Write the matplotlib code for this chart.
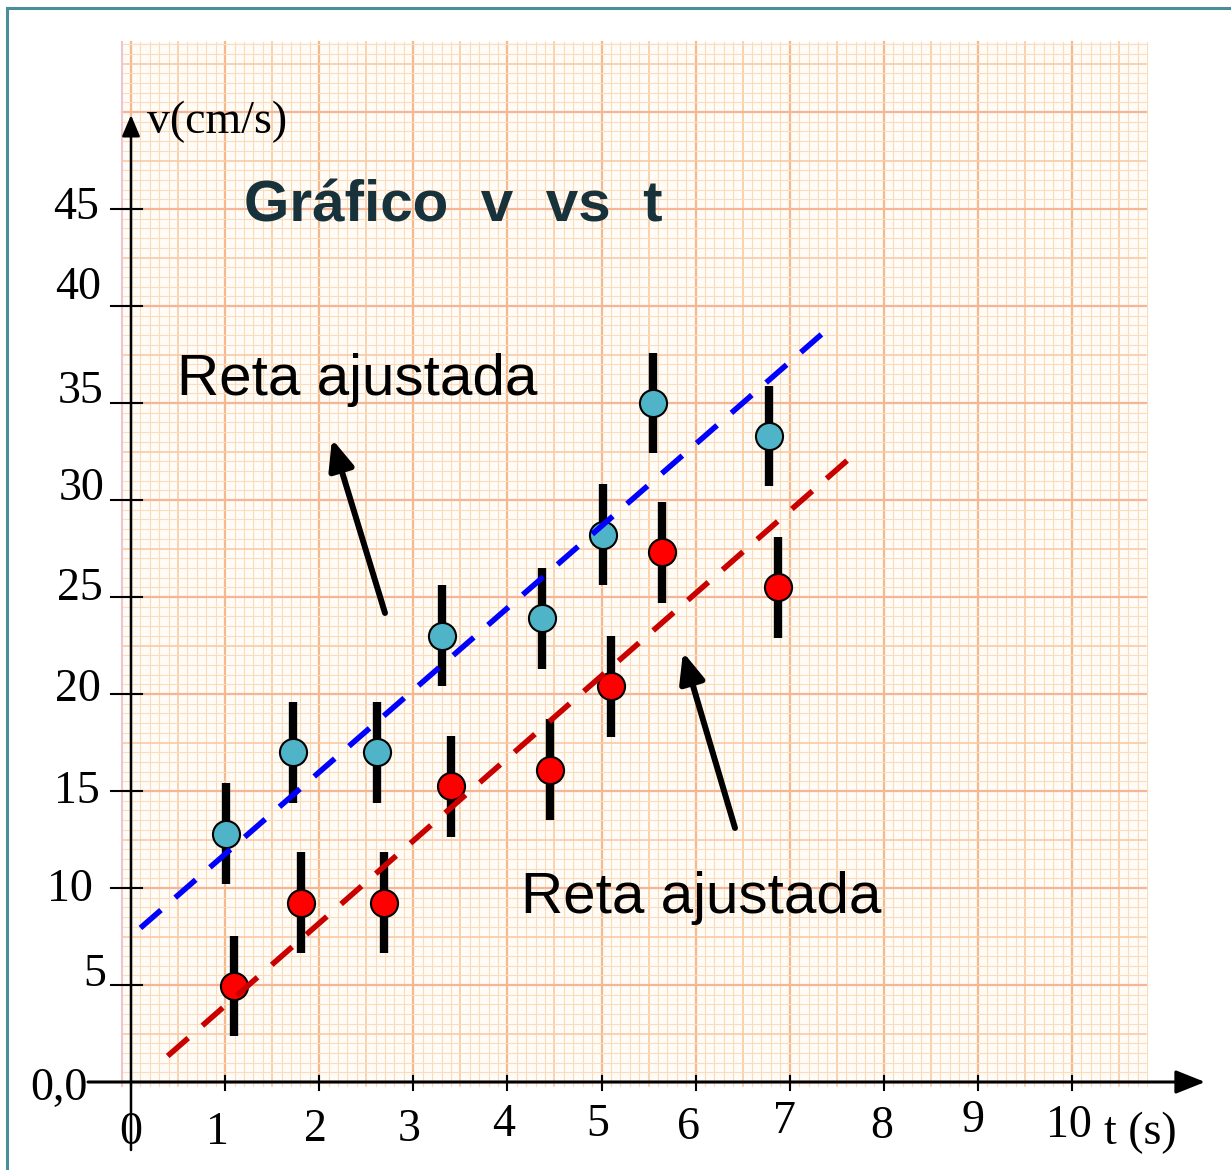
import matplotlib.pyplot as plt
from matplotlib.patches import Rectangle
import numpy as np

# blue series (upper)
t_blue = [1.01, 1.72, 2.61, 3.31, 4.37, 5.02, 5.55, 6.78]
v_blue = [12.8, 17.0, 17.0, 23.0, 23.9, 28.2, 35.0, 33.3]
# red series (lower)
t_red = [1.09, 1.81, 2.69, 3.40, 4.45, 5.10, 5.64, 6.88]
v_red = [4.95, 9.25, 9.25, 15.25, 16.1, 20.4, 27.3, 25.5]
v_err = 2.6

# fitted lines (end points)
fit_blue_t = [0.10, 7.39]
fit_blue_v = [7.94, 38.76]
fit_red_t = [0.39, 7.64]
fit_red_v = [1.34, 32.16]

x_ticks = [0, 1, 2, 3, 4, 5, 6, 7, 8, 9, 10]
x_labels = ['0', '1', '2', '3', '4', '5', '6', '7', '8', '9', '10']
y_ticks = [45, 40, 35, 30, 25, 20, 15, 10, 5, 0]
y_labels = ['45', '40', '35', '30', '25', '20', '15', '10', '5', '0,0']

# little hand-drawn offsets of the tick labels (pixels)
ylab_right = [99, 101, 103, 105, 103, 101, 100, 93, 106, 88]
ylab_base = [10, -7, 0, 0, 3, 7, 12, 13, 1, 18]
xlab_dx = [0, -8, -4, -4, -4, -4, -7, -5, -2, -5, -3]
xlab_cy = [1133, 1133, 1130, 1130, 1125, 1125, 1128, 1122, 1127, 1121, 1126]

W, H = 1231, 1170
X0, SX = 131.0, 94.1     # pixel of t=0, pixels per second
Y0, SY = 1082.0, 19.4    # pixel of v=0, pixels per cm/s


def T(px):
    return (px - X0) / SX


def V(py):
    return (Y0 - py) / SY


SERIF = ['Liberation Serif', 'DejaVu Serif']
SANS = ['Liberation Sans', 'DejaVu Sans']

fig = plt.figure(figsize=(W / 100, H / 100), dpi=100)
ax = fig.add_axes([0, 0, 1, 1])
ax.set_xlim(T(0), T(W))
ax.set_ylim(V(H), V(0))
ax.axis('off')

# frame
ax.add_patch(Rectangle((T(7), V(H + 20)), T(W + 20) - T(7), V(8) - V(H + 20),
                       fill=False, ec='#4b8d9b', lw=2.2, zorder=0))

# graph paper
p_left, p_right = T(122), T(1146)
p_bot, p_top = V(1086), V(42)
ax.add_patch(Rectangle((p_left, p_bot), p_right - p_left, p_top - p_bot,
                       fc='#fffbf7', ec='none', zorder=0.5))
gx = np.arange(0, 10.81, 0.1)
for i, x in enumerate(gx):
    if i % 10 == 0:
        c, lw = '#f5b98c', 1.6
    elif i % 5 == 0:
        c, lw = '#f8cba2', 1.2
    else:
        c, lw = '#fbdcb9', 0.8
    ax.plot([x, x], [p_bot, p_top], color=c, lw=lw, zorder=1)
gy = np.arange(0, 53.6, 0.5)
for i, y in enumerate(gy):
    if i % 10 == 0:
        c, lw = '#f5b696', 1.6
    elif i % 5 == 0:
        c, lw = '#f8caa6', 1.2
    else:
        c, lw = '#fbdcbd', 0.8
    ax.plot([p_left, p_right], [y, y], color=c, lw=lw, zorder=1)
ax.plot([p_left, p_left], [p_bot, p_top], color='#f0c6cc', lw=1.5, zorder=1)

# axes with arrows
ax.annotate('', xy=(T(1205), 0), xytext=(T(88), 0),
            arrowprops=dict(arrowstyle='-|>,head_length=1.8,head_width=0.72',
                            lw=2.2, color='black', shrinkA=0, shrinkB=0,
                            mutation_scale=10), zorder=6)
ax.annotate('', xy=(0, V(115)), xytext=(0, V(1150)),
            arrowprops=dict(arrowstyle='-|>,head_length=1.3,head_width=0.55',
                            lw=1.8, color='black', shrinkA=0, shrinkB=0,
                            mutation_scale=10), zorder=6)

for x in x_ticks[1:]:
    ax.plot([x, x], [V(1076), V(1090)], color='black', lw=1.5, zorder=6)
for y in y_ticks[:-1]:
    ax.plot([T(111), T(142)], [y, y], color='black', lw=1.5, zorder=6)

for x, lab, dx, cy in zip(x_ticks, x_labels, xlab_dx, xlab_cy):
    ax.text(x + dx / SX, V(cy), lab, ha='center', va='center',
            fontsize=33, family=SERIF, zorder=7)
for y, lab, r, b in zip(y_ticks, y_labels, ylab_right, ylab_base):
    ax.text(T(r), y - b / SY, lab, ha='right', va='baseline',
            fontsize=33, family=SERIF, zorder=7)

ax.text(T(147), V(133), 'v(cm/s)', ha='left', va='baseline',
        fontsize=33, family=SERIF, zorder=7)
ax.text(T(1104), V(1133), 't (s)', ha='left', va='center',
        fontsize=33, family=SERIF, zorder=7)

# error bars, markers, fitted lines
ax.errorbar(t_blue, v_blue, yerr=v_err, fmt='none', ecolor='black',
            elinewidth=6, capsize=0, zorder=3)
ax.errorbar(t_red, v_red, yerr=v_err, fmt='none', ecolor='black',
            elinewidth=6, capsize=0, zorder=3)
ax.plot(t_blue, v_blue, 'o', ms=19.5, mfc='#4fb4c8', mec='black', mew=1.5,
        zorder=4)
ax.plot(t_red, v_red, 'o', ms=19.5, mfc='#ff0000', mec='black', mew=1.5,
        zorder=4)
ax.plot(fit_blue_t, fit_blue_v, color='#0000ff', lw=4,
        linestyle=(0, (4.9, 3.4)), dash_capstyle='butt', zorder=5)
ax.plot(fit_red_t, fit_red_v, color='#c80000', lw=4,
        linestyle=(0, (4.9, 3.4)), dash_capstyle='butt', zorder=5)

# texts and arrows
ax.text(T(244), V(221), 'Gráfico  v  vs  t', ha='left', va='baseline',
        fontsize=42, fontweight='bold', color='#17323a', family=SANS, zorder=7)
ax.text(T(177), V(395), 'Reta ajustada', ha='left', va='baseline',
        fontsize=42, family=SANS, zorder=7)
ax.text(T(521), V(913), 'Reta ajustada', ha='left', va='baseline',
        fontsize=42, family=SANS, zorder=7)

arrow_style = dict(arrowstyle='-|>,head_length=0.9,head_width=0.38', lw=4.3,
                   color='black', shrinkA=0, shrinkB=0, mutation_scale=20)
ax.annotate('', xy=(T(332), V(439)), xytext=(T(385), V(613)),
            arrowprops=arrow_style, zorder=6)
ax.annotate('', xy=(T(683), V(652)), xytext=(T(735), V(828)),
            arrowprops=arrow_style, zorder=6)

fig.savefig('out.png', dpi=100)
